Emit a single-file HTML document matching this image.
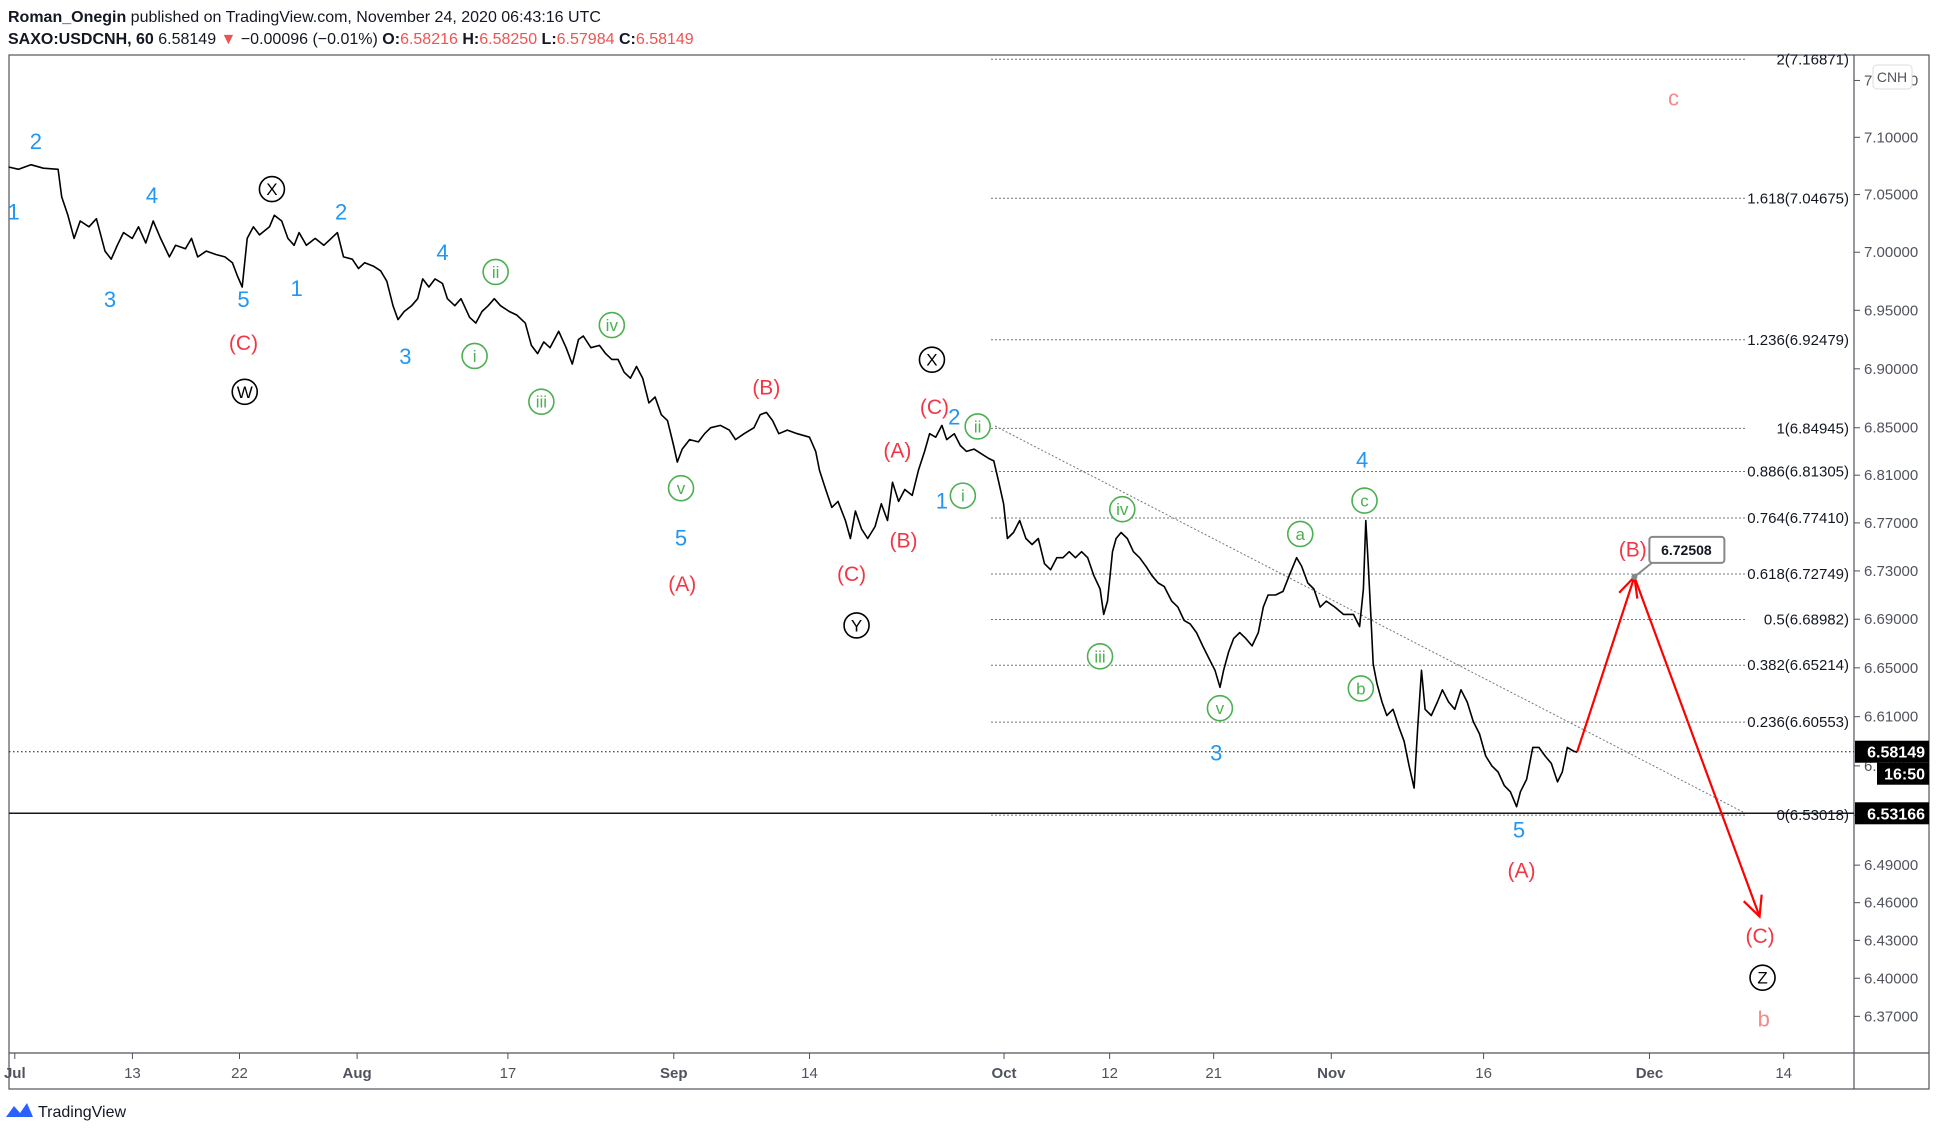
<!DOCTYPE html>
<html><head><meta charset="utf-8"><style>
html,body{margin:0;padding:0;background:#fff;}
svg{display:block;font-family:"Liberation Sans",sans-serif;}
</style></head><body>
<svg id="chart" width="1938" height="1136" viewBox="0 0 1938 1136" xmlns="http://www.w3.org/2000/svg">
<text x="8" y="22" font-size="16" fill="#131722"><tspan font-weight="bold">Roman_Onegin</tspan> published on TradingView.com, November 24, 2020 06:43:16 UTC</text>
<text x="8" y="44" font-size="16" fill="#131722"><tspan font-weight="bold">SAXO:USDCNH, 60</tspan> 6.58149 <tspan fill="#ef5350">▼</tspan> −0.00096 (−0.01%) <tspan font-weight="bold">O:</tspan><tspan fill="#ef5350">6.58216</tspan> <tspan font-weight="bold">H:</tspan><tspan fill="#ef5350">6.58250</tspan> <tspan font-weight="bold">L:</tspan><tspan fill="#ef5350">6.57984</tspan> <tspan font-weight="bold">C:</tspan><tspan fill="#ef5350">6.58149</tspan></text>
<g id="frame">
<rect x="9" y="55" width="1920" height="1034" fill="none" stroke="#50535e" stroke-width="1.2"/>
<line x1="1854" y1="55" x2="1854" y2="1089" stroke="#50535e" stroke-width="1.2"/>
<line x1="9" y1="1053" x2="1929" y2="1053" stroke="#50535e" stroke-width="1.2"/>
</g>
<g id="layer"></g>
<g>
<path d="M6 1117 L14 1106 L20 1113 L27 1103 L33 1117 Z" fill="#2962ff"/>
<text x="38" y="1117" font-size="16" fill="#131722">TradingView</text>
</g>
</svg>
<script>
const times=[-0.41,0.25,1.07,1.89,2.87,3.11,3.52,3.93,4.34,4.92,5.41,5.98,6.39,6.80,7.21,7.79,8.20,8.69,9.18,9.67,10.25,10.66,11.31,11.72,12.13,12.70,13.36,13.93,14.43,14.75,15.08,15.41,15.82,16.23,16.89,17.21,17.70,18.11,18.52,18.85,19.34,19.92,20.49,20.98,21.39,21.80,22.38,22.79,23.20,23.77,24.26,24.67,25.08,25.41,25.82,26.31,26.72,27.05,27.46,27.87,28.36,28.69,29.18,29.59,30.16,30.57,30.98,31.39,31.80,32.21,32.79,33.28,33.85,34.26,34.67,35.08,35.49,36.07,36.56,36.97,37.38,37.70,38.20,38.77,39.18,39.59,40.00,40.41,40.82,41.23,41.64,42.05,42.46,42.87,43.28,43.69,43.93,44.26,44.75,45.33,45.74,46.15,46.80,47.38,47.79,48.36,49.02,49.43,49.84,50.25,50.66,51.23,51.89,52.70,53.11,53.36,53.77,54.18,54.59,55.08,55.41,55.74,56.15,56.56,57.05,57.46,57.87,58.20,58.61,59.02,59.51,59.92,60.33,60.66,61.07,61.48,61.80,62.30,62.70,63.11,63.61,64.10,64.59,64.92,65.25,65.57,65.82,66.23,66.64,67.05,67.46,67.87,68.28,68.69,69.10,69.51,69.92,70.33,70.74,71.15,71.56,71.97,72.21,72.46,72.79,73.03,73.36,73.77,74.18,74.59,75.00,75.41,75.82,76.23,76.72,77.13,77.54,77.95,78.36,78.77,79.18,79.59,79.92,80.16,80.49,80.82,81.23,81.64,82.05,82.46,82.79,83.11,83.61,84.10,84.51,85.00,85.33,85.74,86.15,86.56,86.97,87.54,88.11,88.77,89.18,89.43,89.59,89.75,89.92,90.08,90.33,90.66,90.98,91.39,91.80,92.13,92.46,92.79,93.03,93.28,93.52,93.93,94.34,94.67,95.08,95.49,95.90,96.31,96.72,97.13,97.54,97.95,98.36,98.77,99.18,99.59,99.84,100.25,100.66,101.07,101.48,101.89,102.30,102.62,102.95,103.36,103.61];
const prices=[7.074,7.072,7.076,7.073,7.072,7.048,7.032,7.012,7.027,7.022,7.029,7.001,6.994,7.006,7.017,7.012,7.022,7.008,7.027,7.012,6.996,7.006,7.003,7.012,6.996,7.001,6.998,6.996,6.991,6.980,6.970,7.012,7.022,7.015,7.022,7.032,7.027,7.012,7.006,7.017,7.006,7.012,7.006,7.012,7.017,6.996,6.994,6.986,6.991,6.988,6.984,6.975,6.954,6.942,6.949,6.954,6.960,6.977,6.970,6.977,6.973,6.960,6.954,6.960,6.944,6.939,6.949,6.954,6.960,6.954,6.949,6.946,6.939,6.920,6.913,6.923,6.918,6.932,6.918,6.904,6.925,6.928,6.918,6.920,6.913,6.908,6.908,6.897,6.892,6.902,6.892,6.871,6.876,6.861,6.856,6.835,6.821,6.832,6.840,6.838,6.845,6.850,6.852,6.848,6.840,6.845,6.850,6.861,6.863,6.856,6.845,6.848,6.845,6.842,6.830,6.814,6.798,6.783,6.788,6.772,6.757,6.780,6.765,6.757,6.767,6.786,6.772,6.804,6.788,6.798,6.793,6.814,6.830,6.845,6.842,6.852,6.840,6.845,6.835,6.830,6.832,6.828,6.824,6.822,6.804,6.786,6.757,6.762,6.772,6.757,6.752,6.757,6.736,6.731,6.741,6.741,6.746,6.741,6.746,6.741,6.726,6.715,6.694,6.705,6.746,6.757,6.762,6.757,6.746,6.741,6.734,6.726,6.720,6.717,6.705,6.700,6.689,6.686,6.679,6.668,6.658,6.648,6.634,6.648,6.663,6.674,6.679,6.674,6.668,6.679,6.700,6.710,6.710,6.713,6.726,6.741,6.734,6.720,6.715,6.700,6.705,6.700,6.694,6.694,6.684,6.715,6.772,6.736,6.694,6.653,6.637,6.622,6.611,6.616,6.601,6.590,6.570,6.552,6.601,6.648,6.616,6.611,6.622,6.632,6.622,6.616,6.632,6.622,6.606,6.596,6.578,6.570,6.565,6.554,6.549,6.537,6.549,6.559,6.585,6.585,6.578,6.572,6.557,6.565,6.585,6.582,6.581];
const priceTicks=[7.15,7.10,7.05,7.00,6.95,6.90,6.85,6.81,6.77,6.73,6.69,6.65,6.61,6.57,6.53,6.49,6.46,6.43,6.40,6.37];
const dateLabels=["Jul","13","22","Aug","17","Sep","14","Oct","12","21","Nov","16","Dec","14"];
const dateTimes=[0,7.8,14.9,22.7,32.7,43.7,52.7,65.6,72.6,79.5,87.3,97.4,108.4,117.3];
const fibRatios=["2","1.618","1.236","1","0.886","0.764","0.618","0.5","0.382","0.236","0"];
const fibPrices=[7.16871,7.04675,6.92479,6.84945,6.81305,6.77410,6.72749,6.68982,6.65214,6.60553,6.53018];
const projTimes=[103.61,107.4,115.7];
const projPrices=[6.58149,6.72508,6.449];
const lastPrice=6.58149, lowPrice=6.53166;

const NS="http://www.w3.org/2000/svg";
const L=document.getElementById('layer');
const X=t=>14.8+15.08*t;
const Y=p=>16018-8102*Math.log(p);
function mk(tag,attrs,parent){const e=document.createElementNS(NS,tag);for(const k in attrs)e.setAttribute(k,attrs[k]);(parent||L).appendChild(e);return e;}

// price axis
priceTicks.forEach(p=>{
  const y=Y(p);
  const tk=mk('line',{x1:1854,x2:1860,y1:y,y2:y,stroke:'#50535e'});
  
  
  const t=mk('text',{x:1864,y:y+5,'font-size':15,fill:'#50535e'});
  t.textContent=p.toFixed(5);
  
  
});
// date axis
dateLabels.forEach((d,i)=>{
  const x=X(dateTimes[i]);
  const tk=mk('line',{x1:x,x2:x,y1:1053,y2:1059,stroke:'#50535e'});
  
  
  const t=mk('text',{x:x,y:1078,'font-size':15,fill:'#50535e','text-anchor':'middle','font-weight':(isNaN(+d)?'bold':'normal')});
  t.textContent=d;
  
  
});
// fib levels
const fx1=991, fx2=1745;
fibPrices.forEach((p,i)=>{
  const y=Y(p);
  const ln=mk('line',{x1:fx1,x2:fx2,y1:y,y2:y,stroke:'#777','stroke-width':1,'stroke-dasharray':'2,2'});
  
  
  const t=mk('text',{x:1849,y:y+5,'font-size':15,fill:'#131722','text-anchor':'end'});
  t.textContent=fibRatios[i]+'('+p.toFixed(5)+')';
  
  
});
// horizontal price lines
const ll=mk('line',{x1:9,x2:1854,y1:Y(lastPrice),y2:Y(lastPrice),stroke:'#131722','stroke-dasharray':'1.5,2.5'});


const lw=mk('line',{x1:9,x2:1854,y1:Y(lowPrice),y2:Y(lowPrice),stroke:'#131722','stroke-width':1.5});


// trend line
const tl=mk('line',{x1:995,y1:426,x2:1743,y2:812,stroke:'#777','stroke-dasharray':'2,2'});


// price series
let d='';
times.forEach((t,i)=>{d+=(i?'L':'M')+X(t).toFixed(1)+' '+Y(prices[i]).toFixed(1);});
const ps=mk('path',{d:d,fill:'none',stroke:'#000','stroke-width':1.6,'stroke-linejoin':'round'});


// projection
let pd='';
projTimes.forEach((t,i)=>{pd+=(i?'L':'M')+X(t).toFixed(1)+' '+Y(projPrices[i]).toFixed(1);});
const pj=mk('path',{d:pd,fill:'none',stroke:'#ff0000','stroke-width':2.2});


function arrowHead(x0,y0,x1,y1,name){
  const a=Math.atan2(y1-y0,x1-x0),s=22,w=0.45;
  const p=`M${x1-s*Math.cos(a-w)} ${y1-s*Math.sin(a-w)} L${x1} ${y1} L${x1-s*Math.cos(a+w)} ${y1-s*Math.sin(a+w)}`;
  const e=mk('path',{d:p,fill:'none',stroke:'#ff0000','stroke-width':2.2});
  
  
}
arrowHead(X(projTimes[0]),Y(projPrices[0]),X(projTimes[1]),Y(projPrices[1]),'arrow-head-b');
arrowHead(X(projTimes[1]),Y(projPrices[1]),X(projTimes[2]),Y(projPrices[2]),'arrow-head-c');
// callout
const bx=X(projTimes[1]),by=Y(projPrices[1]);
const cg=mk('g',{});


mk('path',{d:`M${bx} ${by} L${bx+20} ${by-16} L${bx+40} ${by-16}`,fill:'none',stroke:'#888','stroke-width':2},cg);
mk('circle',{cx:bx,cy:by,r:3,fill:'#888'},cg);
mk('rect',{x:bx+15,y:by-40,width:75,height:26,rx:3,fill:'#fff',stroke:'#888','stroke-width':2},cg);
const ct=mk('text',{x:bx+52,y:by-22,'font-size':14,'font-weight':'bold','text-anchor':'middle',fill:'#131722'},cg);
ct.textContent=projPrices[1].toFixed(5);

// axis boxes
function box(y,txt,name,w){
  const g=mk('g',{});
  
  
  mk('rect',{x:1929-w,y:y-11,width:w,height:22,fill:'#000'},g);
  const t=mk('text',{x:1925,y:y+6,'font-size':16,'font-weight':'bold',fill:'#fff','text-anchor':'end'},g);
  t.textContent=txt;
}
box(Y(lastPrice),lastPrice.toFixed(5),'last-price-badge',74);
box(Y(lastPrice)+22,'16:50','countdown-badge',52);
box(Y(lowPrice),lowPrice.toFixed(5),'low-price-badge',74);
// CNH
const cn=mk('g',{});


mk('rect',{x:1873,y:65,width:39,height:24,rx:4,fill:'#fff',stroke:'#ddd'},cn);
const cnt=mk('text',{x:1892,y:82,'font-size':14,fill:'#50535e','text-anchor':'middle'},cn);
cnt.textContent='CNH';

// wave labels (displayed coords * S)
const S=1.236;
const blue=[["1",11,171],["2",29,114],["3",89,242],["4",123,158],["5",197,242],["1",240,233],["2",276,171],["4",358,204],["3",328,288],["5",551,435],["2",772,337],["1",762,405],["4",1102,372],["3",984,609],["5",1229,671]];
const red=[["(C)",197,277],["(B)",620,313],["(A)",552,472],["(C)",689,464],["(B)",731,437],["(A)",726,364],["(C)",756,329],["(A)",1231,704],["(B)",1321,444],["(C)",1424,757]];
const pink=[["c",1354,79],["b",1427,824]];
const green=[["ii",401,220],["i",384,288],["iii",438,325],["iv",495,263],["v",551,395],["ii",791,345],["i",779,401],["iv",908,412],["iii",890,531],["v",987,573],["a",1052,432],["c",1104,405],["b",1101,557]];
const black=[["X",220,153],["W",198,317],["X",754,291],["Y",693,506],["Z",1426,791]];
function lbl(arr,color,size,name){arr.forEach(a=>{
  const t=mk('text',{x:a[1]*S,y:a[2]*S+size*0.36,'font-size':size,fill:color,'text-anchor':'middle'});
  t.textContent=a[0];
  
  
});}
lbl(blue,'#2196f3',22,'wave-label-blue');
lbl(red,'#f23645',21,'wave-label-red');
lbl(pink,'#f28b8b',22,'wave-label-pink');
function circ(arr,color,name){arr.forEach(a=>{
  const g=mk('g',{});
  
  
  mk('circle',{cx:a[1]*S,cy:a[2]*S,r:12.5,fill:'#fff',stroke:color,'stroke-width':1.6},g);
  const t=mk('text',{x:a[1]*S,y:a[2]*S+6,'font-size':17,fill:color,'text-anchor':'middle'},g);
  t.textContent=a[0];
});}
circ(green,'#4caf50','wave-label-green-circled');
circ(black,'#000','wave-label-black-circled');
</script>
</body></html>
